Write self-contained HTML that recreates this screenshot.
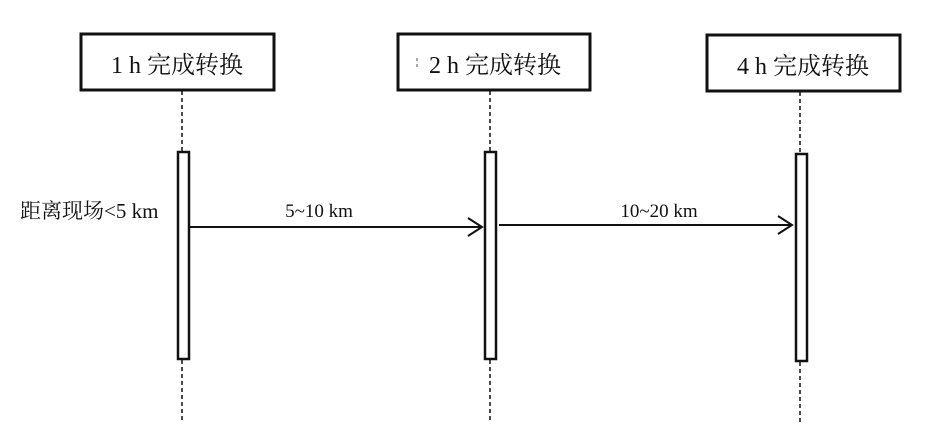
<!DOCTYPE html>
<html><head><meta charset="utf-8"><style>
body{margin:0;background:#fff;}
svg{display:block}
text{font-family:"Liberation Serif","Noto Serif CJK SC","Noto Sans CJK SC",serif;fill:#111}
</style></head><body>
<svg width="940" height="431" viewBox="0 0 940 431" xmlns="http://www.w3.org/2000/svg">
<g fill="#fff" stroke="#111" stroke-width="3">
<rect x="81" y="34" width="193" height="56"/>
<rect x="398" y="34" width="192" height="56"/>
<rect x="707" y="35" width="193" height="56"/>
</g>
<g stroke="#111" stroke-width="1.5" stroke-dasharray="4,3">
<line x1="182" y1="91" x2="182" y2="152"/>
<line x1="182" y1="360" x2="182" y2="422"/>
<line x1="490" y1="91" x2="490" y2="152"/>
<line x1="490" y1="360" x2="490" y2="422"/>
<line x1="800" y1="92" x2="800" y2="154"/>
<line x1="800" y1="362" x2="800" y2="422"/>
</g>
<g fill="#fff" stroke="#111" stroke-width="2.5">
<rect x="178" y="152" width="11" height="207"/>
<rect x="485" y="152" width="11" height="207"/>
<rect x="796" y="154" width="11" height="207"/>
</g>
<g stroke="#111" stroke-width="2" fill="none">
<line x1="190" y1="227" x2="482" y2="227"/>
<polyline points="468,218 482,227 468,236"/>
<line x1="499" y1="225" x2="792" y2="225"/>
<polyline points="778,216 792,225 778,234"/>
</g>
<g font-size="24" text-anchor="middle">
<text x="177" y="73">1 h 完成转换</text>
<text x="495" y="73">2 h 完成转换</text>
<text x="803" y="74">4 h 完成转换</text>
</g>
<line x1="417" y1="58" x2="417" y2="70" stroke="#555" stroke-width="1" stroke-dasharray="3,3"/>
<g font-size="19">
<text x="20" y="218" font-size="21">距离现场&lt;5 km</text>
<text x="319" y="217" text-anchor="middle">5~10 km</text>
<text x="659" y="217" text-anchor="middle">10~20 km</text>
</g>
</svg>
</body></html>
